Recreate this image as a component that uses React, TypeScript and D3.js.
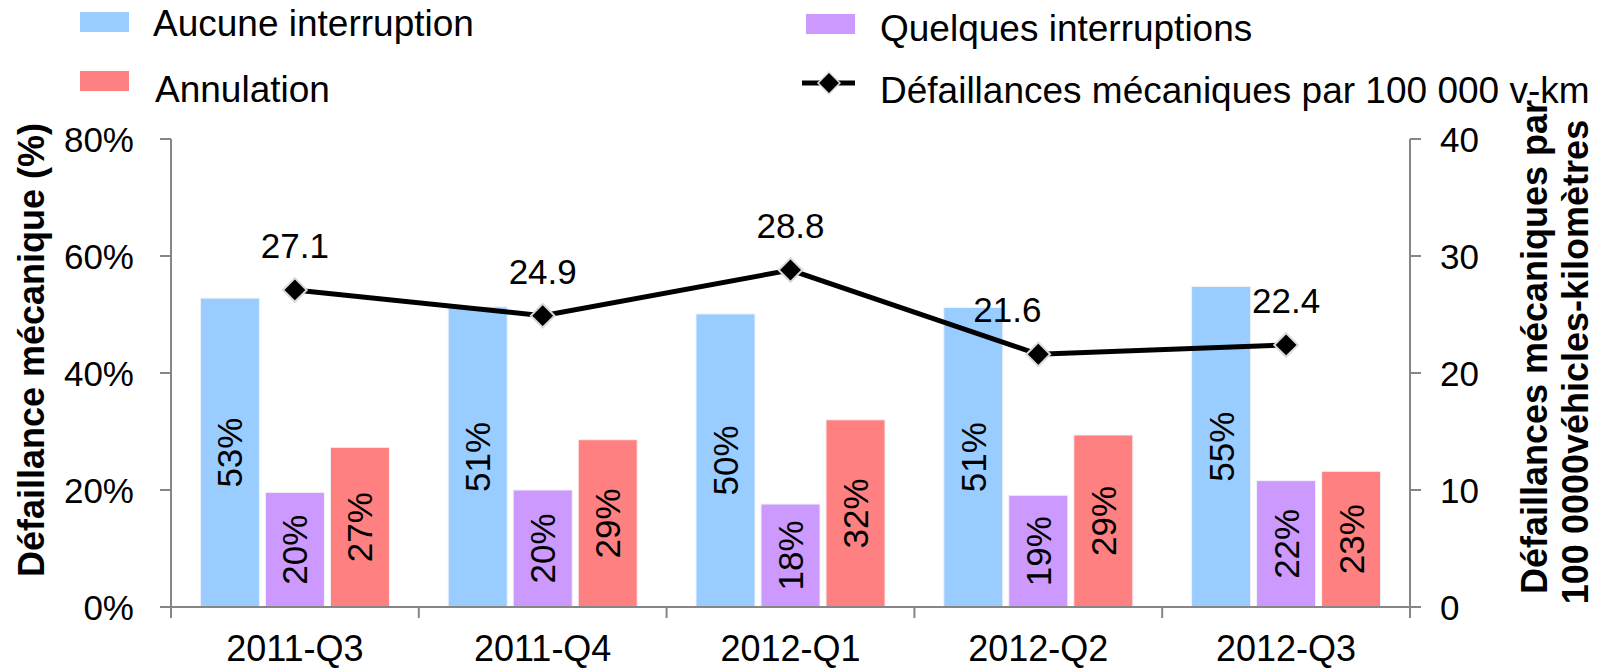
import React from "react";
import * as d3 from "d3";

const categories = ["2011-Q3", "2011-Q4", "2012-Q1", "2012-Q2", "2012-Q3"];
const seriesNames = ["Aucune interruption", "Quelques interruptions", "Annulation"];
const aucune = [52.8, 51.3, 50.1, 51.2, 54.8];
const quelques = [19.6, 20.0, 17.6, 19.1, 21.6];
const annulation = [27.3, 28.6, 32.0, 29.4, 23.2];
const defaillances = [27.1, 24.9, 28.8, 21.6, 22.4];
const leftTicks = [0, 20, 40, 60, 80];
const rightTicks = [0, 10, 20, 30, 40];
const lineName = "Défaillances mécaniques par 100 000 v-km";
const leftTitle = "Défaillance mécanique (%)";
const rightTitle = ["Défaillances mécaniques par", "100 0000véhicles-kilomètres"];

const colors = ["#99CCFF", "#CC99FF", "#FF8080"];
const FONT = "'Liberation Sans', Arial, sans-serif";
const W = 1600;
const H = 670;
const X0 = 171;
const X1 = 1410;
const Y0 = 607;
const Y1 = 139;
const labelDx = [0, 0, 0, -31, 0];

export default function App() {
  const values = [aucune, quelques, annulation];
  const x = d3.scaleBand<string>().domain(categories).range([X0, X1]).paddingInner(0).paddingOuter(0);
  const xs = d3
    .scaleBand<string>()
    .domain(seriesNames)
    .range([0, x.bandwidth()])
    .paddingInner(0.092)
    .paddingOuter(0.452);
  const yL = d3.scaleLinear().domain([0, 80]).range([Y0, Y1]);
  const yR = d3.scaleLinear().domain([0, 40]).range([Y0, Y1]);
  const line = d3
    .line<number>()
    .x((_, i) => (x(categories[i]) as number) + x.bandwidth() / 2)
    .y((d) => yR(d));
  const axisColor = "#868686";
  const dPath = d3.symbol().type(d3.symbolSquare).size(280)() as string;
  const dPathLegend = d3.symbol().type(d3.symbolSquare).size(240)() as string;

  return (
    <svg
      width={W}
      height={H}
      style={{ position: "absolute", left: 0, top: 0, display: "block", background: "#fff" }}
      fontFamily={FONT}
    >
      <rect x={0} y={0} width={W} height={H} fill="#fff" />
      {/* Legend */}
      <g>
        <rect x={80} y={12} width={49} height={20} fill={colors[0]} />
        <text x={153} y={35.5} fontSize={37} fill="#000">{seriesNames[0]}</text>
        <rect x={80} y={71} width={49} height={20} fill={colors[2]} />
        <text x={155} y={102} fontSize={37} fill="#000">{seriesNames[2]}</text>
        <rect x={806} y={14} width={49} height={20} fill={colors[1]} />
        <text x={880} y={40.5} fontSize={37} fill="#000">{seriesNames[1]}</text>
        <line x1={802} x2={855} y1={83} y2={83} stroke="#000" strokeWidth={5} />
        <path d={dPathLegend} transform="translate(829,83) rotate(45)" fill="#000" stroke="#ddd" strokeWidth={1.5} />
        <text x={880} y={103} fontSize={37} fill="#000">{lineName}</text>
      </g>

      {/* Bars */}
      {categories.map((c, i) => (
        <g key={c} transform={`translate(${x(c)},0)`}>
          {seriesNames.map((s, k) => {
            const v = values[k][i];
            const bx = xs(s) as number;
            const bw = xs.bandwidth();
            const top = yL(v);
            const cx = bx + bw / 2;
            const cy = (top + Y0) / 2;
            return (
              <g key={s}>
                <rect x={bx} y={top} width={bw} height={Y0 - top} fill={colors[k]} stroke="#f2f2f8" strokeWidth={1} />
                <text
                  transform={`translate(${cx},${cy}) rotate(-90)`}
                  textAnchor="middle"
                  dominantBaseline="central"
                  fontSize={35}
                  fill="#000"
                >
                  {`${Math.round(v)}%`}
                </text>
              </g>
            );
          })}
        </g>
      ))}

      {/* Axes */}
      <line x1={X0} x2={X0} y1={Y1} y2={Y0 + 11} stroke={axisColor} strokeWidth={2} />
      <line x1={X1} x2={X1} y1={Y1} y2={Y0 + 11} stroke={axisColor} strokeWidth={2} />
      <line x1={X0} x2={X1} y1={Y0} y2={Y0} stroke={axisColor} strokeWidth={2} />
      {leftTicks.map((t) => (
        <g key={"l" + t}>
          <line x1={X0 - 11} x2={X0} y1={yL(t)} y2={yL(t)} stroke={axisColor} strokeWidth={2} />
          <text x={134} y={yL(t)} textAnchor="end" dominantBaseline="central" fontSize={35} fill="#000">
            {`${t}%`}
          </text>
        </g>
      ))}
      {rightTicks.map((t) => (
        <g key={"r" + t}>
          <line x1={X1} x2={X1 + 11} y1={yR(t)} y2={yR(t)} stroke={axisColor} strokeWidth={2} />
          <text x={1440} y={yR(t)} textAnchor="start" dominantBaseline="central" fontSize={35} fill="#000">
            {t}
          </text>
        </g>
      ))}
      {categories.map((c, i) => (
        <g key={"x" + c}>
          <line x1={(x(c) as number) + x.bandwidth()} x2={(x(c) as number) + x.bandwidth()} y1={Y0} y2={Y0 + 11} stroke={axisColor} strokeWidth={2} />
          <text x={(x(c) as number) + x.bandwidth() / 2} y={661} textAnchor="middle" fontSize={36} fill="#000">
            {c}
          </text>
        </g>
      ))}

      {/* Line */}
      <path d={line(defaillances) as string} fill="none" stroke="#000" strokeWidth={5} />
      {defaillances.map((v, i) => {
        const px = (x(categories[i]) as number) + x.bandwidth() / 2;
        const py = yR(v);
        return (
          <g key={"p" + i}>
            <path d={dPath} transform={`translate(${px},${py}) rotate(45)`} fill="#000" stroke="#d9d9d9" strokeWidth={2} />
            <text x={px + labelDx[i]} y={py - 32} textAnchor="middle" fontSize={35} fill="#000">
              {v.toFixed(1)}
            </text>
          </g>
        );
      })}

      {/* Axis titles */}
      <text
        transform={`translate(44,350) rotate(-90)`}
        textAnchor="middle"
        fontSize={36}
        fontWeight="bold"
        fill="#000"
      >
        {leftTitle}
      </text>
      <text transform={`translate(1547,347) rotate(-90)`} textAnchor="middle" fontSize={36} fontWeight="bold" fill="#000">
        {rightTitle[0]}
      </text>
      <text transform={`translate(1588,362) rotate(-90)`} textAnchor="middle" fontSize={36} fontWeight="bold" fill="#000">
        {rightTitle[1]}
      </text>
    </svg>
  );
}
